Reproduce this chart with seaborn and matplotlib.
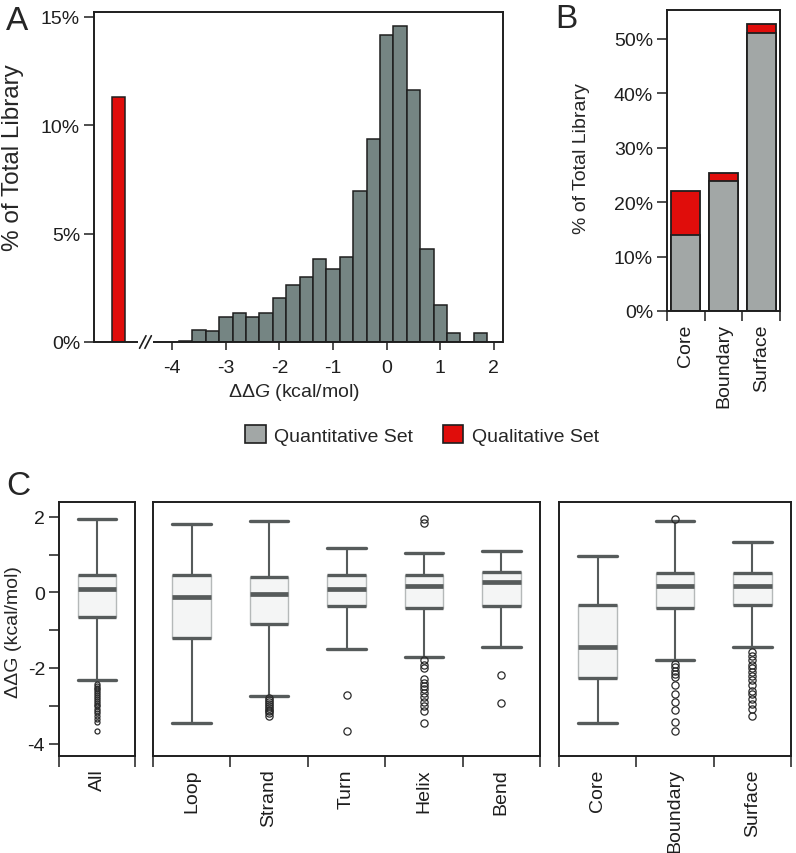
import numpy as np
import pandas as pd
import matplotlib
matplotlib.use("Agg")
import matplotlib.pyplot as plt
import seaborn as sns
from matplotlib.patches import Patch

# ---------------- data ----------------
# Panel A: histogram of ddG (kcal/mol), % of total library per 0.25 bin
bin_centers = [-3.75, -3.5, -3.25, -3.0, -2.75, -2.5, -2.25, -2.0, -1.75, -1.5,
               -1.25, -1.0, -0.75, -0.5, -0.25, 0.0, 0.25, 0.5, 0.75, 1.0,
               1.25, 1.5, 1.75]
quant_hist_pct = [0.05, 0.57, 0.49, 1.15, 1.32, 1.15, 1.32, 2.02, 2.63, 3.02,
                  3.83, 3.38, 3.91, 6.97, 9.38, 14.18, 14.57, 11.62, 4.31, 1.71,
                  0.42, 0.0, 0.42]
qual_bar_x = [-5.0]
qual_bar_pct = [11.28]
bin_width = 0.25
a_yticks = [0, 5, 10, 15]
a_xticks = [-4, -3, -2, -1, 0, 1, 2]

# Panel B: stacked % of total library by burial region
regions = ["Core", "Boundary", "Surface"]
region_quant_pct = [13.9, 23.8, 51.1]
region_qual_pct = [8.1, 1.6, 1.6]
b_yticks = [0, 10, 20, 30, 40, 50]

# Panel C: box plot statistics (ddG, kcal/mol)
c_groups = [["All"], ["Loop", "Strand", "Turn", "Helix", "Bend"], ["Core", "Boundary", "Surface"]]
c_whislo = [[-2.31], [-3.45, -2.75, -1.49, -1.71, -1.45], [-3.45, -1.79, -1.45]]
c_q1 = [[-0.64], [-1.21, -0.85, -0.36, -0.41, -0.37], [-2.26, -0.41, -0.33]]
c_med = [[0.10], [-0.12, -0.04, 0.09, 0.18, 0.27], [-1.44, 0.18, 0.18]]
c_q3 = [[0.46], [0.47, 0.41, 0.46, 0.46, 0.55], [-0.33, 0.50, 0.50]]
c_whishi = [[1.93], [1.80, 1.89, 1.18, 1.05, 1.10], [0.96, 1.89, 1.32]]
c_fliers = [
    [[-2.42, -2.47, -2.52, -2.57, -2.62, -2.67, -2.72, -2.77, -2.82, -2.87, -2.92,
      -2.97, -3.02, -3.08, -3.14, -3.20, -3.27, -3.35, -3.43, -3.67]],
    [[],
     [-2.80, -2.85, -2.90, -2.95, -3.00, -3.05, -3.10, -3.15, -3.20, -3.28],
     [-2.71, -3.67],
     [1.93, 1.84, -1.80, -1.91, -2.00, -2.29, -2.39, -2.48, -2.57, -2.67, -2.77,
      -2.89, -3.02, -3.14, -3.45],
     [-2.18, -2.92]],
    [[],
     [1.95, -1.89, -1.98, -2.07, -2.15, -2.24, -2.46, -2.70, -2.90, -3.10, -3.43, -3.67],
     [-1.58, -1.69, -1.80, -1.91, -2.00, -2.11, -2.21, -2.33, -2.46, -2.60, -2.68,
      -2.82, -2.95, -3.08, -3.27]],
]
c_yticks = [-4, -2, 0, 2]
c_yminor = [-3, -1, 1]

# ---------------- style ----------------
sns.set_theme(style="white")
plt.rcParams["font.family"] = ["Liberation Sans", "DejaVu Sans"]
plt.rcParams["mathtext.fontset"] = "custom"
plt.rcParams["mathtext.rm"] = "Liberation Sans"
plt.rcParams["mathtext.it"] = "Liberation Sans:italic"
plt.rcParams["axes.edgecolor"] = "#1e1e1e"
plt.rcParams["axes.linewidth"] = 1.4
plt.rcParams["xtick.color"] = "#1e1e1e"
plt.rcParams["ytick.color"] = "#1e1e1e"

HIST_GRAY = "#758583"
BAR_GRAY = "#a2a7a6"
RED = "#e00d0b"
EDGE = "#1e1e1e"
BOXLINE = "#565b5b"
FS = 14

W, H = 796, 854
fig = plt.figure(figsize=(W / 100, H / 100), dpi=100)


def px_axes(l, t, r, b):
    return fig.add_axes([l / W, 1 - b / H, (r - l) / W, (b - t) / H])


# ---------------- Panel A ----------------
axA = px_axes(94, 13, 503, 343)
edges = list(np.array(bin_centers) - bin_width / 2) + [bin_centers[-1] + bin_width / 2]
sns.histplot(x=bin_centers, weights=quant_hist_pct, bins=edges, color=HIST_GRAY,
             edgecolor=EDGE, linewidth=1.1, alpha=1, ax=axA)
sns.histplot(x=qual_bar_x, weights=qual_bar_pct,
             bins=[qual_bar_x[0] - bin_width / 2, qual_bar_x[0] + bin_width / 2],
             color=RED, edgecolor=EDGE, linewidth=1.1, alpha=1, ax=axA)
xminA, xmaxA = -5.46, 2.17
axA.set_xlim(xminA, xmaxA)
axA.set_ylim(0, 15.22)
axA.set_yticks(a_yticks)
axA.set_yticklabels([f"{v}%" for v in a_yticks], fontsize=FS)
axA.set_xticks(a_xticks)
axA.set_xticklabels([str(v) for v in a_xticks], fontsize=FS)
axA.tick_params(axis="y", length=7, width=1.1, pad=3, direction="out", left=True)
axA.tick_params(axis="x", length=6, width=1.1, pad=6, direction="out", bottom=True)
axA.set_ylabel("% of Total Library", fontsize=17.5)
axA.yaxis.set_label_coords(-0.172, 0.562)
axA.set_xlabel(r"ΔΔ$\it{G}$ (kcal/mol)", fontsize=FS)
axA.xaxis.set_label_coords(0.489, -0.118)
# broken bottom axis
axA.spines["bottom"].set_visible(False)
tr = axA.get_xaxis_transform()
brk = -4.49
axA.plot([xminA, brk - 0.15], [0, 0], transform=tr, color=EDGE, lw=1.4,
         clip_on=False, solid_capstyle="butt")
axA.plot([brk + 0.13, xmaxA], [0, 0], transform=tr, color=EDGE, lw=1.4,
         clip_on=False, solid_capstyle="butt")
for dx in (-0.06, 0.04):
    axA.plot([brk + dx - 0.06, brk + dx + 0.06], [-0.019, 0.019], transform=tr,
             color=EDGE, lw=1.2, clip_on=False)

# ---------------- Panel B ----------------
axB = px_axes(667, 11, 780, 312)
region_total = [q + r for q, r in zip(region_quant_pct, region_qual_pct)]
dfB = pd.DataFrame({"region": regions, "total": region_total, "quant": region_quant_pct})
sns.barplot(data=dfB, x="region", y="total", order=regions, color=RED, saturation=1,
            edgecolor=EDGE, linewidth=1.3, width=0.77, ax=axB)
sns.barplot(data=dfB, x="region", y="quant", order=regions, color=BAR_GRAY, saturation=1,
            edgecolor=EDGE, linewidth=1.3, width=0.77, ax=axB)
axB.set_xlim(-0.5, len(regions) - 0.5)
axB.set_ylim(0, 55.3)
axB.set_yticks(b_yticks)
axB.set_yticklabels([f"{v}%" for v in b_yticks], fontsize=FS)
axB.set_xticks(range(len(regions)))
axB.set_xticklabels(regions, rotation=90, fontsize=FS, va="top")
axB.set_xticks(np.arange(len(regions) + 1) - 0.5, minor=True)
axB.tick_params(axis="x", which="major", length=0, pad=9)
axB.tick_params(axis="x", which="minor", length=7, width=1.1, direction="out", bottom=True)
axB.tick_params(axis="y", length=7, width=1.1, pad=3, direction="out", left=True)
axB.set_xlabel("")
axB.set_ylabel("% of Total Library", fontsize=FS)
axB.yaxis.set_label_coords(-0.68, 0.51)

# ---------------- Legend ----------------
handles = [Patch(facecolor=BAR_GRAY, edgecolor=EDGE, linewidth=1.2, label="Quantitative Set"),
           Patch(facecolor=RED, edgecolor=EDGE, linewidth=1.2, label="Qualitative Set")]
fig.legend(handles=handles, loc="center", bbox_to_anchor=(422 / W, 1 - 436 / H), ncol=2,
           frameon=False, fontsize=FS, handlelength=1.05, handleheight=1.05,
           handletextpad=0.45, columnspacing=1.5)

# ---------------- Panel C ----------------
c_rects = [(59, 503, 135, 757), (153, 503, 540, 757), (559, 503, 791, 757)]
c_axes = []
for gi, rect in enumerate(c_rects):
    ax = px_axes(*rect)
    c_axes.append(ax)
    names = c_groups[gi]
    n = len(names)
    stats = []
    for k in range(n):
        stats.append(dict(whislo=c_whislo[gi][k], q1=c_q1[gi][k], med=c_med[gi][k],
                          q3=c_q3[gi][k], whishi=c_whishi[gi][k],
                          fliers=np.array(c_fliers[gi][k]), label=names[k]))
    ms = 3.6 if gi == 0 else 5.2
    ax.bxp(stats, positions=list(range(n)), widths=0.5, capwidths=0.5,
           patch_artist=True, showfliers=True,
           boxprops=dict(facecolor="#f4f5f5", edgecolor="#b5b9b9", linewidth=1.0),
           whiskerprops=dict(color=BOXLINE, linewidth=1.5),
           capprops=dict(color=BOXLINE, linewidth=2.4),
           medianprops=dict(color=BOXLINE, linewidth=3.4, solid_capstyle="butt"),
           flierprops=dict(marker="o", markerfacecolor="none", markeredgecolor="#2a2a2a",
                           markersize=ms, markeredgewidth=0.9))
    pos = np.arange(n)
    ax.hlines(c_q1[gi], pos - 0.25, pos + 0.25, colors=BOXLINE, linewidth=2.4, zorder=3)
    ax.hlines(c_q3[gi], pos - 0.25, pos + 0.25, colors=BOXLINE, linewidth=2.4, zorder=3)
    ax.set_xlim(-0.5, n - 0.5)
    ax.set_ylim(-4.33, 2.39)
    ax.set_xticks(pos)
    ax.set_xticklabels(names, rotation=90, fontsize=FS, va="top")
    ax.set_xticks(np.arange(n + 1) - 0.5, minor=True)
    ax.tick_params(axis="x", which="major", length=0, pad=9)
    ax.tick_params(axis="x", which="minor", length=8, width=1.1, direction="out", bottom=True)
    if gi == 0:
        ax.set_yticks(c_yticks)
        ax.set_yticklabels([str(v) for v in c_yticks], fontsize=FS)
        ax.set_yticks(c_yminor, minor=True)
        ax.tick_params(axis="y", which="both", length=7, width=1.1, pad=3,
                       direction="out", left=True)
        ax.set_ylabel("ΔΔG (kcal/mol)", fontsize=FS)
        ax.yaxis.set_label_coords(-0.487, 0.493)
    else:
        ax.set_yticks([])
    for s in ax.spines.values():
        s.set_linewidth(1.4)

# ---------------- Panel letters ----------------
fig.text(6 / W, 1 - 6 / H, "A", fontsize=24, ha="left", va="top")
fig.text(555 / W, 1 - 4 / H, "B", fontsize=24, ha="left", va="top")
fig.text(6 / W, 1 - 471 / H, "C", fontsize=24, ha="left", va="top")

fig.savefig("out.png", dpi=100)
